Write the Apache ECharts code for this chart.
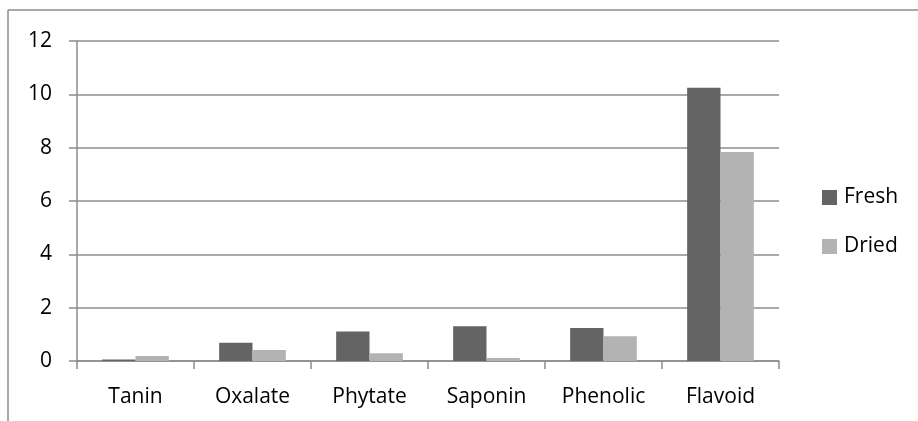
<!DOCTYPE html>
<html style="height: 100%">
    <head>
        <title>Fresh vs Dried</title>
        <meta charset="utf-8">
    </head>
    <body style="height: 100%; margin: 0; background: #fff">
        <div id="container" style="width: 918px; height: 421px"></div>

        <script type="text/javascript" src="https://cdn.jsdelivr.net/npm/echarts@6.0.0/dist/echarts.min.js"></script>
        <script type="text/javascript">
            var categories = ['Tanin', 'Oxalate', 'Phytate', 'Saponin', 'Phenolic', 'Flavoid'];
            var fresh = [0.06, 0.68, 1.11, 1.3, 1.24, 10.25];
            var dried = [0.19, 0.41, 0.29, 0.11, 0.93, 7.84];

            var dom = document.getElementById("container");
            var myChart = echarts.init(dom);
            var lineColor = '#8c8c8c';
            var font = '"Open Sans", sans-serif';

            var option = {
                animation: false,
                textStyle: { fontFamily: font },
                grid: { left: 77, right: 139, top: 41, bottom: 60 },
                legend: {
                    orient: 'vertical',
                    left: 822,
                    top: 187,
                    padding: 0,
                    itemWidth: 15,
                    itemHeight: 15,
                    itemGap: 28,
                    icon: 'rect',
                    textStyle: { fontSize: 21, lineHeight: 21, color: '#000', fontFamily: font, padding: [0, 0, 0, 2] },
                    data: ['Fresh', 'Dried']
                },
                xAxis: {
                    type: 'category',
                    data: categories,
                    axisLine: { lineStyle: { color: lineColor, width: 1.5 } },
                    axisTick: { show: true, length: 8, lineStyle: { color: lineColor, width: 1.5 } },
                    axisLabel: { fontSize: 21, color: '#000', margin: 26, fontFamily: font }
                },
                yAxis: {
                    type: 'value',
                    min: 0,
                    max: 12,
                    interval: 2,
                    axisLine: { show: true, lineStyle: { color: lineColor, width: 1.5 } },
                    axisTick: { show: true, length: 8, lineStyle: { color: lineColor, width: 1.5 } },
                    splitLine: { lineStyle: { color: lineColor, width: 1.5 } },
                    axisLabel: { fontSize: 21, color: '#000', margin: 25, fontFamily: font }
                },
                series: [
                    {
                        name: 'Fresh',
                        type: 'bar',
                        data: fresh,
                        barGap: '0%',
                        barCategoryGap: '43%',
                        itemStyle: { color: '#646464' }
                    },
                    {
                        name: 'Dried',
                        type: 'bar',
                        data: dried,
                        itemStyle: { color: '#b3b3b3' }
                    }
                ],
                graphic: [
                    { type: 'line', shape: { x1: 8, y1: 10, x2: 918, y2: 10 }, style: { stroke: '#8c8c8c', lineWidth: 1.5 } },
                    { type: 'line', shape: { x1: 8, y1: 10, x2: 8, y2: 421 }, style: { stroke: '#8c8c8c', lineWidth: 1.5 } }
                ]
            };

            myChart.setOption(option);
            window.onresize = function () {
                myChart.resize();
            };
        </script>
    </body>
</html>
